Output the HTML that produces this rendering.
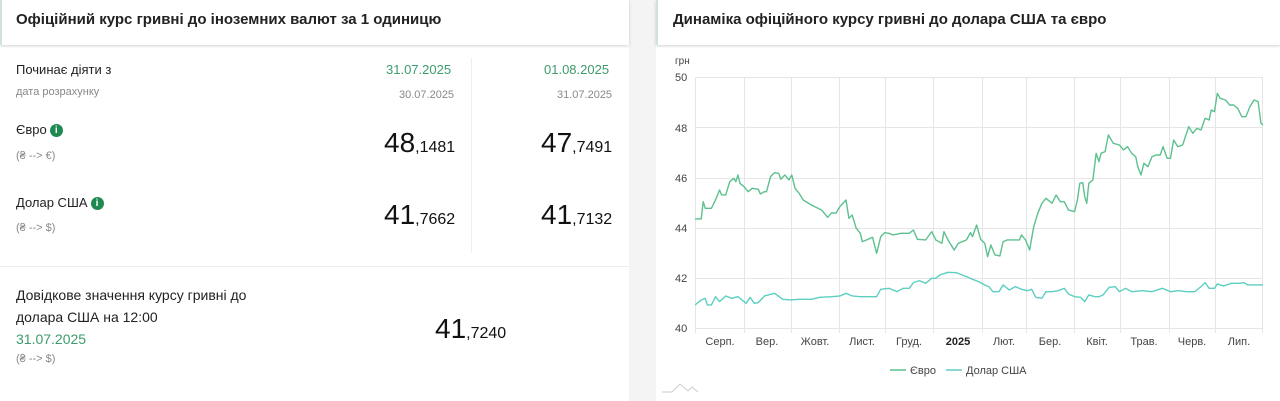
<!DOCTYPE html>
<html><head><meta charset="utf-8"><style>
*{margin:0;padding:0;box-sizing:border-box}
body{width:1280px;height:401px;background:#f4f4f4;font-family:"Liberation Sans",sans-serif;color:#222;position:relative;overflow:hidden}
.p{position:absolute;background:#fff}
.a{position:absolute;white-space:nowrap}
.g{color:#3d9b6c}
.s{color:#888;font-size:11px}
.big{font-size:28px;color:#111}
.big small{font-size:16px}
.i{display:inline-block;width:13px;height:13px;border-radius:50%;background:#1e8a52;color:#fff;font-size:10px;font-weight:bold;text-align:center;line-height:13px;vertical-align:1px;margin-left:3px}
</style></head><body>
<div class="p" style="left:0;top:0;width:629px;height:401px"></div>
<div class="p" style="left:0;top:0;width:629px;height:45px;box-shadow:0 1px 3px rgba(0,0,0,.18);border-left:2px solid #cfe3d7"></div>
<div class="a" style="left:16px;top:11px;font-size:15px;font-weight:bold;color:#222">Офіційний курс гривні до іноземних валют за 1 одиницю</div>
<div style="position:absolute;left:471px;top:58px;width:1px;height:195px;background:#eee"></div>
<div style="position:absolute;left:0;top:266px;width:629px;height:1px;background:#eee"></div>
<div class="a" style="left:16px;top:62px;font-size:13px">Починає діяти з</div>
<div class="a s" style="left:16px;top:86px">дата розрахунку</div>
<div class="a g" style="left:386px;top:62px;font-size:13px">31.07.2025</div>
<div class="a g" style="left:544px;top:62px;font-size:13px">01.08.2025</div>
<div class="a s" style="left:399px;top:89px">30.07.2025</div>
<div class="a s" style="left:557px;top:89px">31.07.2025</div>
<div class="a" style="left:16px;top:122px;font-size:13px">Євро<span class="i">i</span></div>
<div class="a s" style="left:16px;top:150px">(₴ --&gt; €)</div>
<div class="a big" style="left:384px;top:127px">48<small>,1481</small></div>
<div class="a big" style="left:541px;top:127px">47<small>,7491</small></div>
<div class="a" style="left:16px;top:195px;font-size:13px">Долар США<span class="i">i</span></div>
<div class="a s" style="left:16px;top:222px">(₴ --&gt; $)</div>
<div class="a big" style="left:384px;top:199px">41<small>,7662</small></div>
<div class="a big" style="left:541px;top:199px">41<small>,7132</small></div>
<div class="a" style="left:16px;top:284px;font-size:14px;line-height:22px">Довідкове значення курсу гривні до<br>долара США на 12:00<br><span class="g">31.07.2025</span></div>
<div class="a s" style="left:16px;top:353px">(₴ --&gt; $)</div>
<div class="a big" style="left:435px;top:313px">41<small>,7240</small></div>

<div class="p" style="left:656px;top:0;width:624px;height:401px"></div>
<div class="p" style="left:656px;top:0;width:624px;height:45px;box-shadow:0 1px 3px rgba(0,0,0,.18);border-left:2px solid #cfe3d7"></div>
<div class="a" style="left:673px;top:11px;font-size:15px;font-weight:bold;color:#222">Динаміка офіційного курсу гривні до долара США та євро</div>
<svg style="position:absolute;left:0;top:0" width="1280" height="401">
<g stroke="#e6e6e6" stroke-width="1">
<line x1="695" x2="1263" y1="77.5" y2="77.5"/><line x1="695" x2="1263" y1="127.5" y2="127.5"/><line x1="695" x2="1263" y1="178.5" y2="178.5"/><line x1="695" x2="1263" y1="228.5" y2="228.5"/><line x1="695" x2="1263" y1="278.5" y2="278.5"/><line x1="695" x2="1263" y1="328.5" y2="328.5"/>
<line x1="695.5" x2="695.5" y1="77" y2="333"/><line x1="744.5" x2="744.5" y1="77" y2="333"/><line x1="791.5" x2="791.5" y1="77" y2="333"/><line x1="839.5" x2="839.5" y1="77" y2="333"/><line x1="885.5" x2="885.5" y1="77" y2="333"/><line x1="933.5" x2="933.5" y1="77" y2="333"/><line x1="982.5" x2="982.5" y1="77" y2="333"/><line x1="1026.5" x2="1026.5" y1="77" y2="333"/><line x1="1074.5" x2="1074.5" y1="77" y2="333"/><line x1="1120.5" x2="1120.5" y1="77" y2="333"/><line x1="1169.5" x2="1169.5" y1="77" y2="333"/><line x1="1215.5" x2="1215.5" y1="77" y2="333"/><line x1="1262.5" x2="1262.5" y1="77" y2="333"/>
</g>
<g font-size="11" fill="#444" font-family="Liberation Sans,sans-serif">
<text x="675" y="64" font-size="10">грн</text>
<text x="675" y="81">50</text><text x="675" y="132">48</text><text x="675" y="182">46</text><text x="675" y="232">44</text><text x="675" y="282">42</text><text x="675" y="332">40</text>
<g text-anchor="middle"><text x="720" y="345">Серп.</text><text x="767" y="345">Вер.</text><text x="815" y="345">Жовт.</text><text x="862" y="345">Лист.</text><text x="909" y="345">Груд.</text><text x="958" y="345" font-weight="bold" fill="#222">2025</text><text x="1004" y="345">Лют.</text><text x="1050" y="345">Бер.</text><text x="1097" y="345">Квіт.</text><text x="1144" y="345">Трав.</text><text x="1192" y="345">Черв.</text><text x="1239" y="345">Лип.</text></g>
<line x1="890" x2="906" y1="370" y2="370" stroke="#5cc18e" stroke-width="1.5"/><text x="910" y="374">Євро</text>
<line x1="946" x2="962" y1="370" y2="370" stroke="#5ccfc0" stroke-width="1.5"/><text x="966" y="374">Долар США</text>
</g>
<path d="M662 392 L672 392 L680 384 L688 391 L692 387 L698 392" fill="none" stroke="#ccc"/>
<g transform="translate(640,40) scale(0.408,0.3333)" fill="none" stroke-width="1.4" stroke-linejoin="round">
<polyline vector-effect="non-scaling-stroke" stroke="#5cc18e" points="135,537 150,537 155,485 160,505 175,505 185,480 195,450 200,465 210,465 220,425 230,415 235,425 240,405 245,430 255,440 265,455 275,445 290,448 295,462 305,455 310,455 320,410 330,398 340,400 345,418 355,405 365,420 372,405 380,445 390,460 400,480 420,495 445,510 460,532 470,518 480,520 490,500 505,480 512,535 520,525 530,565 540,580 545,605 555,600 570,592 580,640 590,590 600,578 610,580 620,585 640,580 660,580 670,570 680,598 700,600 715,575 725,600 740,610 745,575 755,600 770,630 780,610 800,600 810,578 815,590 825,555 835,598 845,610 852,650 860,615 870,645 882,648 890,605 900,600 915,600 930,600 935,585 945,600 955,630 965,560 975,520 985,490 995,475 1010,490 1020,465 1030,485 1040,485 1050,510 1065,515 1072,480 1078,430 1085,428 1090,470 1095,490 1100,430 1110,420 1118,340 1125,365 1130,340 1140,335 1148,285 1160,310 1175,315 1185,330 1195,320 1205,340 1215,350 1220,380 1228,405 1235,370 1245,380 1255,350 1265,345 1275,345 1282,320 1292,355 1300,355 1308,300 1318,320 1330,315 1345,260 1355,280 1365,265 1375,270 1385,235 1395,240 1400,210 1408,215 1415,160 1422,175 1435,180 1445,195 1455,195 1465,205 1475,230 1485,230 1495,200 1505,180 1515,185 1522,250 1527,255"/>
<polyline vector-effect="non-scaling-stroke" stroke="#5ccfc0" points="135,795 150,780 160,775 165,795 175,795 185,770 195,785 210,768 225,775 240,770 250,780 260,790 270,772 280,790 290,788 305,768 330,760 350,778 370,780 390,778 420,778 440,772 470,770 490,768 505,760 520,768 540,770 560,770 580,770 590,748 610,745 630,755 645,745 660,745 670,728 685,722 700,730 715,715 725,715 735,705 755,697 775,698 790,705 800,710 815,718 830,725 845,735 855,740 865,755 880,755 890,735 905,750 920,740 935,748 950,752 960,748 970,772 985,775 995,755 1010,755 1025,752 1040,745 1050,762 1065,770 1080,772 1090,785 1100,765 1115,770 1125,770 1135,765 1150,742 1165,740 1175,755 1190,745 1205,755 1230,752 1255,755 1280,745 1300,755 1320,752 1340,755 1360,755 1375,740 1385,728 1395,745 1408,745 1415,732 1430,738 1450,730 1470,730 1480,728 1490,735 1510,735 1527,735"/>
</g>
</svg>
</body></html>
